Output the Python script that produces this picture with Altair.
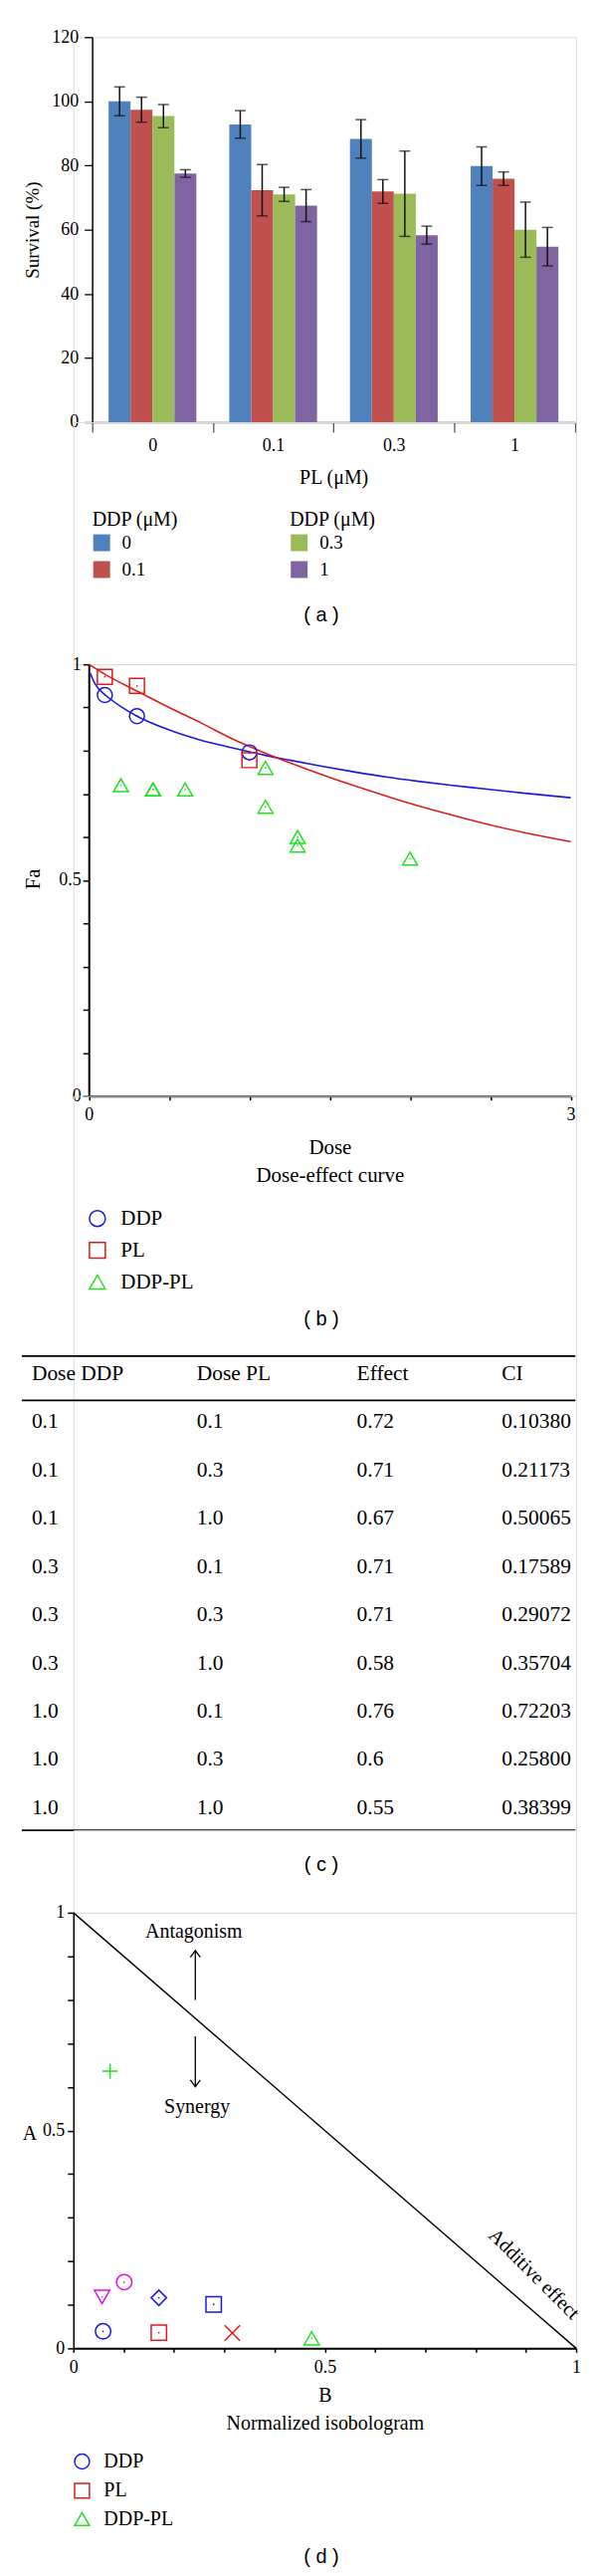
import altair as alt
import pandas as pd

SERIF = "Liberation Serif"
SANS = "Liberation Sans"

# ---------------- (a) survival bar chart ----------------
pl_levels = ["0", "0.1", "0.3", "1"]
ddp_levels = ["0", "0.1", "0.3", "1"]
surv_pl_0 = [100.0, 97.4, 95.4, 77.5]
surv_pl_01 = [92.8, 72.3, 71.0, 67.5]
surv_pl_03 = [88.3, 71.9, 71.2, 58.3]
surv_pl_1 = [79.8, 75.9, 60.0, 54.7]
sd_pl_0 = [4.5, 3.9, 3.6, 1.2]
sd_pl_01 = [4.3, 8.0, 2.2, 5.0]
sd_pl_03 = [6.0, 3.7, 13.3, 2.8]
sd_pl_1 = [6.0, 2.1, 8.6, 6.0]
bar_colors = ["#4F81BD", "#C0504D", "#9BBB59", "#8064A2"]

# ---------------- (b) dose-effect curve ----------------
series_names = ["DDP", "PL", "DDP-PL"]
series_colors = ["#1A1ADC", "#E01B1B", "#22E022"]
single_dose = [0.1, 0.3, 1.0]
ddp_fa = [0.929, 0.880, 0.796]
pl_fa = [0.971, 0.950, 0.778]
curve_ddp_dose = [0.01, 0.03, 0.06, 0.1, 0.2, 0.3, 0.5, 0.7, 0.9, 1.1, 1.25, 1.45,
                  1.65, 1.85, 2.05, 2.25, 2.45, 2.7, 3.0]
curve_ddp_fa = [0.979, 0.961, 0.944, 0.930, 0.902, 0.880, 0.848, 0.824, 0.806, 0.789,
                0.778, 0.764, 0.751, 0.739, 0.729, 0.720, 0.712, 0.702, 0.691]
curve_pl_dose = [0.0, 0.1, 0.3, 0.5, 0.7, 0.9, 1.1, 1.3, 1.5, 1.7, 1.9, 2.1, 2.3,
                 2.5, 2.75, 3.0]
curve_pl_fa = [1.0, 0.977, 0.938, 0.900, 0.864, 0.826, 0.794, 0.765, 0.738, 0.713,
               0.689, 0.667, 0.647, 0.628, 0.607, 0.589]

# ---------------- (c) table ----------------
tbl_header = ["Dose DDP", "Dose PL", "Effect", "CI"]
tbl_ddp = ["0.1", "0.1", "0.1", "0.3", "0.3", "0.3", "1.0", "1.0", "1.0"]
tbl_pl = ["0.1", "0.3", "1.0", "0.1", "0.3", "1.0", "0.1", "0.3", "1.0"]
tbl_effect = ["0.72", "0.71", "0.67", "0.71", "0.71", "0.58", "0.76", "0.6", "0.55"]
tbl_ci = ["0.10380", "0.21173", "0.50065", "0.17589", "0.29072", "0.35704",
          "0.72203", "0.25800", "0.38399"]

# ---------------- (d) normalized isobologram ----------------
iso_B = [0.059, 0.170, 0.474, 0.057, 0.170, 0.316, 0.073, 0.101, 0.279]
iso_A = [0.039, 0.036, 0.023, 0.118, 0.116, 0.035, 0.636, 0.152, 0.101]
additive_B = [0.0, 1.0]
additive_A = [1.0, 0.0]

BLUE, RED, GREEN, MAGENTA = "#1A1ADC", "#E01B1B", "#22E022", "#E010E0"
X_PATH = "M-1,-1L1,1M-1,1L1,-1"
PLUS_PATH = "M-1,0L1,0M0,-1L0,1"
combo_shapes = ["circle", "square", "triangle-up", "triangle-down", "diamond",
                X_PATH, PLUS_PATH, "circle", "square"]
combo_colors = [BLUE, RED, GREEN, MAGENTA, BLUE, RED, GREEN, MAGENTA, BLUE]

W = 507
dummy = pd.DataFrame({"k": [0]})


def panel_label(txt, x, y):
    return alt.Chart(pd.DataFrame({"t": [txt]})).mark_text(
        font=SANS, fontSize=20, color="black", align="center", baseline="middle"
    ).encode(x=alt.value(x), y=alt.value(y), text="t:N")


def frac_label_expr(vals):
    parts = []
    for v, s in vals:
        parts.append(f"datum.value == {v} ? '{s}' : ")
    return "".join(parts) + "''"


# ======================= panel (a) =======================
rows = []
for pl, sv, sd in zip(pl_levels, [surv_pl_0, surv_pl_01, surv_pl_03, surv_pl_1],
                      [sd_pl_0, sd_pl_01, sd_pl_03, sd_pl_1]):
    for ddp, s, e in zip(ddp_levels, sv, sd):
        rows.append(dict(pl=pl, ddp=ddp, surv=s, sd=e))
df_a = pd.DataFrame(rows)
df_a["lo"] = df_a["surv"] - df_a["sd"]
df_a["hi"] = df_a["surv"] + df_a["sd"]

axis_xa = alt.Axis(labelAngle=0, tickBand="extent", tickSize=10, tickColor="#555",
                   tickWidth=1.3, domainColor="#555", domainWidth=1.5, labelFont=SERIF,
                   labelFontSize=18, labelColor="black", labelPadding=5, grid=False,
                   title="PL (μM)", titleFont=SERIF, titleFontSize=20,
                   titleFontWeight="normal", titleColor="black", titleY=61.7,
                   titleBaseline="alphabetic", titleAlign="center")
x_a = alt.X("pl:N", sort=pl_levels,
            scale=alt.Scale(range=[18.9, 505.7], paddingInner=0, paddingOuter=0),
            axis=axis_xa)
xo_a = alt.XOffset("ddp:N", sort=ddp_levels,
                   scale=alt.Scale(paddingInner=0, paddingOuter=0.75))
axis_ya = alt.Axis(values=[0, 20, 40, 60, 80, 100, 120], offset=-18.9, grid=False,
                   tickSize=8, tickWidth=1.3, tickColor="black", domainColor="black",
                   domainWidth=1.5, labelFont=SERIF, labelFontSize=18, labelColor="black",
                   labelPadding=6, labelFlush=False, title="Survival (%)",
                   titleFont=SERIF, titleFontSize=19, titleFontWeight="normal",
                   titleColor="black", titleX=-60.2, titleY=194, titleAlign="center",
                   titleBaseline="middle", titleAngle=270)


def y_a(field):
    return alt.Y(f"{field}:Q", scale=alt.Scale(domain=[0, 120], nice=False), axis=axis_ya)


def legend_a(x):
    return alt.Legend(title="DDP (μM)", orient="none", legendX=x, legendY=476,
                      symbolType="square", symbolSize=289, symbolStrokeWidth=0,
                      labelFont=SERIF, labelFontSize=19, labelColor="black",
                      titleFont=SERIF, titleFontSize=20, titleFontWeight="normal",
                      titleColor="black", titlePadding=4, rowPadding=7, labelOffset=11)


base_a = alt.Chart(df_a)
bars1 = base_a.transform_filter(
    alt.FieldOneOfPredicate(field="ddp", oneOf=ddp_levels[:2])
).mark_bar().encode(
    x=x_a, xOffset=xo_a, y=y_a("surv"),
    color=alt.Color("ddp:N", scale=alt.Scale(domain=ddp_levels[:2], range=bar_colors[:2]),
                    legend=legend_a(19)))
bars2 = base_a.transform_filter(
    alt.FieldOneOfPredicate(field="ddp", oneOf=ddp_levels[2:])
).mark_bar().encode(
    x=x_a, xOffset=xo_a, y=y_a("surv"),
    color=alt.Color("ddp:N", scale=alt.Scale(domain=ddp_levels[2:], range=bar_colors[2:]),
                    legend=legend_a(218.2)))
err_rule = base_a.mark_rule(color="#111", strokeWidth=1.5).encode(
    x=x_a, xOffset=xo_a, y=y_a("lo"), y2="hi:Q")
cap_lo = base_a.mark_tick(color="#111", size=11, thickness=1.5).encode(
    x=x_a, xOffset=xo_a, y=y_a("lo"))
cap_hi = base_a.mark_tick(color="#111", size=11, thickness=1.5).encode(
    x=x_a, xOffset=xo_a, y=y_a("hi"))

panel_a = alt.layer(bars1, bars2, err_rule, cap_lo, cap_hi,
                    panel_label("( a )", 250, 583)).resolve_scale(
    color="independent").properties(width=W, height=388)

# ======================= panel (b) =======================
pts = []
for d, f in zip(single_dose, ddp_fa):
    pts.append(dict(series="DDP", dose=d, fa=f))
for d, f in zip(single_dose, pl_fa):
    pts.append(dict(series="PL", dose=d, fa=f))
for a, b, e in zip(tbl_ddp, tbl_pl, tbl_effect):
    pts.append(dict(series="DDP-PL", dose=float(a) + float(b), fa=float(e)))
df_b = pd.DataFrame(pts)
df_curve_ddp = pd.DataFrame({"dose": curve_ddp_dose, "fa": curve_ddp_fa})
df_curve_pl = pd.DataFrame({"dose": curve_pl_dose, "fa": curve_pl_fa})

yvals = [0.0, 0.1, 0.2, 0.3, 0.4, 0.5, 0.6, 0.7, 0.8, 0.9, 1.0]
axis_xb = alt.Axis(values=[0, 0.5, 1, 1.5, 2, 2.5, 3],
                   labelExpr=frac_label_expr([(0, "0"), (3, "3")]),
                   labelFlush=False, labelOverlap=False, tickSize=4, tickWidth=1.5,
                   tickColor="black", domainColor="black", domainWidth=2, grid=False,
                   labelFont=SERIF, labelFontSize=18, labelColor="black", labelPadding=6,
                   title=["Dose", "Dose-effect curve"], titleFont=SERIF, titleFontSize=21,
                   titleFontWeight="normal", titleColor="black", titleLineHeight=28,
                   titleBaseline="alphabetic", titleY=57.7)
axis_yb = alt.Axis(values=yvals, labelExpr=frac_label_expr([(0, "0"), (0.5, "0.5"), (1, "1")]),
                   labelFlush=False, labelOverlap=False, offset=-15.5, tickSize=6,
                   tickWidth=1.5, tickColor="black", domainColor="black", domainWidth=2,
                   grid=False, labelFont=SERIF, labelFontSize=18, labelColor="black",
                   labelPadding=2, title="Fa", titleFont=SERIF, titleFontSize=21,
                   titleFontWeight="normal", titleColor="black", titleX=-56.3, titleY=216,
                   titleAlign="center", titleBaseline="middle", titleAngle=270)
x_b = alt.X("dose:Q", scale=alt.Scale(domain=[0, 3], range=[15.5, 501.5], nice=False),
            axis=axis_xb)
y_b = alt.Y("fa:Q", scale=alt.Scale(domain=[0, 1], nice=False), axis=axis_yb)

line_ddp = alt.Chart(df_curve_ddp).mark_line(color=BLUE, strokeWidth=1.6,
                                              interpolate="monotone").encode(x=x_b, y=y_b)
line_pl = alt.Chart(df_curve_pl).mark_line(color=RED, strokeWidth=1.6,
                                           interpolate="monotone").encode(x=x_b, y=y_b)
legend_b = alt.Legend(orient="none", legendX=13.7, legendY=548, symbolSize=256,
                      symbolStrokeWidth=1.5, labelFont=SERIF, labelFontSize=21,
                      labelColor="black", rowPadding=9, labelOffset=13)
pts_b = alt.Chart(df_b).mark_point(filled=False, size=225, strokeWidth=1.5, opacity=1).encode(
    x=x_b, y=y_b,
    color=alt.Color("series:N", title=None, scale=alt.Scale(domain=series_names, range=series_colors),
                    legend=legend_b),
    shape=alt.Shape("series:N", title=None,
                    scale=alt.Scale(domain=series_names, range=["circle", "square", "triangle-up"]),
                    legend=legend_b))
dots_b = alt.Chart(df_b).transform_calculate(dotkey="datum.series").mark_circle(
    size=3, opacity=1).encode(
    x=x_b, y=y_b,
    fill=alt.Fill("dotkey:N", scale=alt.Scale(domain=series_names, range=series_colors),
                  legend=None))

panel_b = alt.layer(line_ddp, line_pl, pts_b, dots_b,
                    panel_label("( b )", 250, 660)).resolve_scale(
    fill="independent").properties(width=W, height=435)

# ======================= panel (c) table =======================
cells = []
for c, h in enumerate(tbl_header):
    cells.append(dict(row=0, col=c, txt=h))
for r, vals in enumerate(zip(tbl_ddp, tbl_pl, tbl_effect, tbl_ci), start=1):
    for c, v in enumerate(vals):
        cells.append(dict(row=r, col=c, txt=v))
df_c = pd.DataFrame(cells)

tbl_text = alt.Chart(df_c).mark_text(align="left", baseline="middle", font=SERIF,
                                     fontSize=21.5, color="black").encode(
    x=alt.X("col:Q", scale=alt.Scale(domain=[0, 1, 2, 3], range=[-42, 124.4, 285.8, 432]),
            axis=None),
    y=alt.Y("row:Q", scale=alt.Scale(domain=[0, 9], range=[18, 455.7]), axis=None),
    text="txt:N")


def hrule(yv):
    return alt.Chart(dummy).mark_rule(color="black", strokeWidth=1.8).encode(
        x=alt.value(-52), x2=alt.value(506.2), y=alt.value(yv))


panel_c = alt.layer(hrule(0), hrule(44.7), hrule(478), tbl_text,
                    panel_label("( c )", 250, 513)).properties(width=W, height=478)

# ======================= panel (d) =======================
combos = [f"{a}+{b}" for a, b in zip(tbl_ddp, tbl_pl)]
df_d = pd.DataFrame({"combo": combos, "B": iso_B, "A": iso_A})
df_add = pd.DataFrame({"B": additive_B, "A": additive_A})

axis_xd = alt.Axis(values=yvals, labelExpr=frac_label_expr([(0, "0"), (0.5, "0.5"), (1, "1")]),
                   labelFlush=False, labelOverlap=False, tickSize=4, tickWidth=1.5,
                   tickColor="black", domainColor="black", domainWidth=2, grid=False,
                   labelFont=SERIF, labelFontSize=18, labelColor="black", labelPadding=6,
                   title=["B", "Normalized isobologram"], titleFont=SERIF, titleFontSize=20,
                   titleFontWeight="normal", titleColor="black", titleLineHeight=28,
                   titleBaseline="alphabetic", titleY=53)
axis_yd = alt.Axis(values=yvals, labelExpr=frac_label_expr([(0, "0"), (0.5, "0.5"), (1, "1")]),
                   labelFlush=False, labelOverlap=False, tickSize=6, tickWidth=1.5,
                   tickColor="black", domainColor="black", domainWidth=1.5, grid=False,
                   labelFont=SERIF, labelFontSize=18, labelColor="black", labelPadding=3,
                   title="A", titleFont=SERIF, titleFontSize=20, titleFontWeight="normal",
                   titleColor="black", titleX=-44.5, titleY=222, titleAlign="center",
                   titleBaseline="middle", titleAngle=0)
x_d = alt.X("B:Q", scale=alt.Scale(domain=[0, 1], nice=False), axis=axis_xd)
y_d = alt.Y("A:Q", scale=alt.Scale(domain=[0, 1], nice=False), axis=axis_yd)

add_line = alt.Chart(df_add).mark_line(color="black", strokeWidth=1.4).encode(x=x_d, y=y_d)
pts_d = alt.Chart(df_d).mark_point(filled=False, size=240, strokeWidth=1.5, opacity=1).encode(
    x=x_d, y=y_d,
    color=alt.Color("combo:N", scale=alt.Scale(domain=combos, range=combo_colors), legend=None),
    shape=alt.Shape("combo:N", scale=alt.Scale(domain=combos, range=combo_shapes), legend=None))
dot_combos = [c for c, s in zip(combos, combo_shapes) if not s.startswith("M")]
dots_d = alt.Chart(df_d).transform_filter(
    alt.FieldOneOfPredicate(field="combo", oneOf=dot_combos)
).mark_circle(size=3, opacity=1).encode(
    x=x_d, y=y_d,
    fill=alt.Fill("combo:N", scale=alt.Scale(domain=combos, range=combo_colors), legend=None))

legend_d = alt.Legend(orient="none", legendX=-1.3, legendY=543, symbolSize=225,
                      symbolStrokeWidth=1.5, labelFont=SERIF, labelFontSize=20,
                      labelColor="black", rowPadding=7.5, labelOffset=12)
leg_d = alt.Chart(pd.DataFrame({"series": series_names, "B": [0, 0, 0], "A": [0, 0, 0]})
                  ).transform_filter("false").mark_point(filled=False, strokeWidth=1.5,
                                                          opacity=1).encode(
    x=x_d, y=y_d,
    color=alt.Color("series:N", title=None,
                    scale=alt.Scale(domain=series_names, range=series_colors), legend=legend_d),
    shape=alt.Shape("series:N", title=None,
                    scale=alt.Scale(domain=series_names, range=["circle", "square", "triangle-up"]),
                    legend=legend_d))


def ann_text(txt, bx, ay, **kw):
    return alt.Chart(dummy).mark_text(font=SERIF, fontSize=20, color="black", **kw).encode(
        x=alt.datum(bx), y=alt.datum(ay), text=alt.value(txt))


antag = ann_text("Antagonism", 0.2394, 0.942, align="center", baseline="alphabetic")
syn = ann_text("Synergy", 0.246, 0.541, align="center", baseline="alphabetic")
additive = ann_text("Additive effect", 0.916, 0.170, align="center", baseline="middle", angle=45)
arr_up = alt.Chart(dummy).mark_rule(color="black", strokeWidth=1.3).encode(
    x=alt.datum(0.2425), y=alt.datum(0.7995), y2=alt.datum(0.913))
arr_dn = alt.Chart(dummy).mark_rule(color="black", strokeWidth=1.3).encode(
    x=alt.datum(0.2425), y=alt.datum(0.716), y2=alt.datum(0.6006))
head_up = alt.Chart(dummy).mark_point(shape="M-1,1.33L0,0L1,1.33", size=100, filled=False,
                                      color="black", strokeWidth=1.3, opacity=1).encode(
    x=alt.datum(0.2425), y=alt.datum(0.913))
head_dn = alt.Chart(dummy).mark_point(shape="M-1,-1.33L0,0L1,-1.33", size=100, filled=False,
                                      color="black", strokeWidth=1.3, opacity=1).encode(
    x=alt.datum(0.2425), y=alt.datum(0.6006))

panel_d = alt.layer(add_line, pts_d, dots_d, leg_d, antag, syn, additive, arr_up, arr_dn,
                    head_up, head_dn, panel_label("( d )", 250, 649)).resolve_scale(
    color="independent", shape="independent").properties(width=W, height=439)


def spacer(h):
    return alt.Chart(dummy).mark_point(opacity=0).encode(
        x=alt.X("k:Q", axis=None), y=alt.Y("k:Q", axis=None)).properties(width=W, height=h)


chart = alt.vconcat(panel_a, spacer(244), panel_b, spacer(262), panel_c, spacer(83), panel_d,
                    spacing=0, bounds="flush").resolve_scale(
    color="independent", shape="independent", fill="independent"
).properties(
    padding={"left": 12, "top": 15, "right": 5, "bottom": 5}
).configure_view(stroke=None).configure(font=SERIF)

chart.save("out.html", embed_options={"renderer": "svg", "actions": False})
